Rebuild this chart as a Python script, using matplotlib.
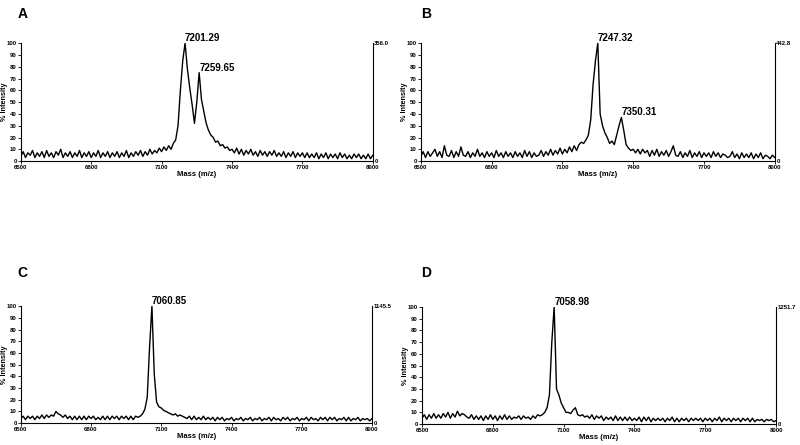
import numpy as np
import matplotlib
matplotlib.use("Agg")
import matplotlib.pyplot as plt

plt.rcParams['font.family'] = ['Liberation Sans', 'DejaVu Sans']

# mass grid (m/z), 10 Da step
mass = np.arange(6500, 8001, 10)

intensity_A = [
    4,8,3,7,5,9,3,7,4,8, 3,9,4,7,3,8,5,10,3,7, 4,8,3,7,4,9,3,7,4,8, 3,7,4,9,3,7,4,8,3,7, 4,8,3,7,4,9,3,7,4,8,
    5,9,4,8,5,10,6,9,7,11, 8,12,9,13,10,15,
    18,30,60,85,100,78,62,48,32,50,75,52,42,32,26,22,20,16,17,13,14,11,12,9,10,
    7,11,6,10,5,9,6,10,5,8, 4,9,5,8,4,8,5,9,4,7, 4,8,3,7,4,8,3,7,4,7,
    3,7,3,6,3,7,2,6,3,7, 2,6,3,6,2,7,3,6,2,5, 2,6,3,6,2,5,2,6,2,5,
]
intensity_B = [
    4,8,3,8,4,7,10,4,8,3, 13,5,4,9,3,8,4,12,5,4, 8,3,7,4,10,4,7,3,8,4, 7,3,9,4,7,3,8,4,7,3, 8,4,7,3,9,4,8,3,7,4,
    5,9,4,8,5,10,5,9,6,11, 6,10,7,12,8,13,9,14,16,15,
    18,22,35,65,85,100,40,30,24,20,15,17,14,22,30,37,26,14,11,9,10,
    7,10,6,10,7,9,4,9,5,10, 4,8,5,9,4,8,13,5,4,8, 3,7,4,9,3,7,4,8,3,7,
    4,7,3,8,4,7,3,6,5,3, 4,8,3,6,2,7,3,6,3,7, 2,6,3,7,2,5,4,2,5,3,
]
intensity_C = [
    4,6,3,6,4,6,3,6,4,7, 4,7,5,7,6,10,8,7,5,7, 4,6,3,6,3,6,3,6,3,6, 4,6,3,5,3,6,3,6,3,6, 4,6,3,6,4,6,3,6,3,6,
    5,6,8,12,22,65,100,42,18,14,13,11,10,9,8,7,8,6,7,6,5,
    4,6,3,6,3,5,3,6,3,5, 3,5,2,5,3,5,2,4,3,5, 2,4,3,5,2,4,3,5,2,4, 3,5,2,4,3,5,2,5,3,4,
    2,5,3,5,2,4,3,5,2,4, 3,5,2,5,3,4,2,5,3,5, 2,5,3,5,2,4,3,5,2,5, 2,4,3,5,2,4,3,4,2,4,
]
intensity_D = [
    5,8,4,8,5,9,5,8,5,9, 6,10,5,9,6,11,7,9,8,6, 5,8,4,7,4,7,3,7,4,8, 4,7,3,7,4,8,4,7,4,6, 5,7,4,7,5,6,4,7,5,8,
    7,8,10,14,25,70,100,30,25,18,14,10,10,9,12,14,8,7,8,6,7,
    5,8,4,7,5,7,3,6,4,6, 3,7,3,6,3,6,3,6,3,5, 3,6,2,6,3,6,2,5,3,5, 3,5,2,5,3,6,2,5,2,5,
    3,5,2,5,3,5,3,5,2,5, 3,5,2,5,3,6,2,5,3,5, 2,5,3,5,2,5,3,5,2,5, 2,4,3,4,2,4,3,4,2,3,
]

panel_letters = ["A", "B", "C", "D"]
series = [intensity_A, intensity_B, intensity_C, intensity_D]
max_counts = ["356.0", "442.8", "1145.5", "1251.7"]
peak_masses = [[7200, 7260], [7250, 7350], [7060], [7060]]
peak_heights = [[100, 75], [100, 37], [100], [100]]
peak_labels = [["7201.29", "7259.65"], ["7247.32", "7350.31"], ["7060.85"], ["7058.98"]]

x_ticks = [6500, 6800, 7100, 7400, 7700, 8000]
y_ticks = list(range(0, 101, 10))

fig = plt.figure(figsize=(8, 4.45), dpi=100)
rects = [
    [0.026, 0.638, 0.440, 0.265],
    [0.526, 0.638, 0.4425, 0.265],
    [0.026, 0.049, 0.439, 0.263],
    [0.5275, 0.047, 0.4425, 0.263],
]
letter_pos = [(0.022, 0.968), (0.527, 0.968), (0.022, 0.386), (0.527, 0.386)]

for i in range(4):
    ax = fig.add_axes(rects[i])
    ax.plot(mass, series[i][:len(mass)], color="black", lw=1.0)
    ax.set_xlim(6500, 8000)
    ax.set_ylim(0, 100)
    ax.set_xticks(x_ticks)
    ax.set_xticklabels([str(t) for t in x_ticks], fontsize=4.3, fontweight="bold")
    ax.set_yticks(y_ticks)
    ax.set_yticklabels([str(t) for t in y_ticks], fontsize=4.3, fontweight="bold")
    ax.tick_params(length=2, width=0.6, pad=1)
    ax.spines["top"].set_visible(False)
    for s in ["left", "bottom", "right"]:
        ax.spines[s].set_linewidth(0.8)
    ax.set_xlabel("Mass (m/z)", fontsize=5.5, fontweight="bold", labelpad=0.5)
    ax.set_ylabel("% Intensity", fontsize=5.2, fontweight="bold")
    ax.yaxis.set_label_coords(-0.036, 0.5)
    ax.text(1.004, 1.0, max_counts[i], transform=ax.transAxes, fontsize=4.3,
            fontweight="bold", ha="left", va="center")
    ax.text(1.006, 0.0, "0", transform=ax.transAxes, fontsize=4.3,
            fontweight="bold", ha="left", va="center")
    for m, h, lab in zip(peak_masses[i], peak_heights[i], peak_labels[i]):
        ax.text(m, h, lab, fontsize=7, fontweight="bold", ha="left", va="bottom")
    fig.text(letter_pos[i][0], letter_pos[i][1], panel_letters[i], fontsize=10,
             fontweight="bold", ha="left", va="center")

fig.savefig("out.png", dpi=100)
